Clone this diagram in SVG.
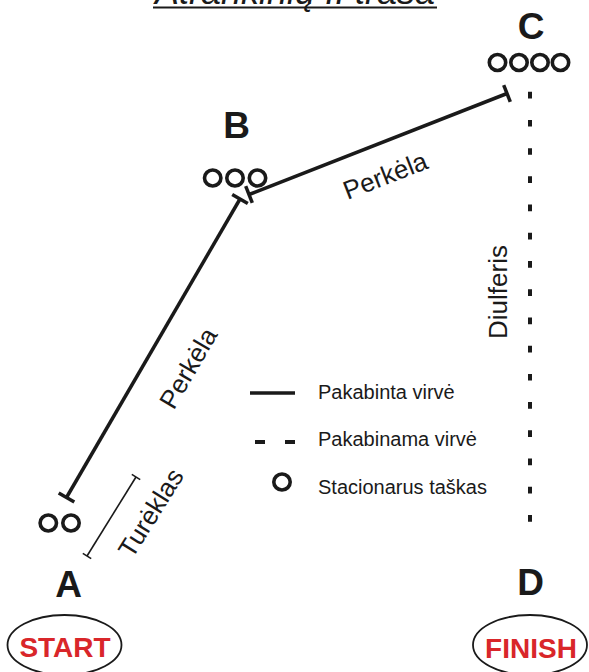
<svg xmlns="http://www.w3.org/2000/svg" width="589" height="672" viewBox="0 0 589 672">
<style>
text{font-family:"Liberation Sans",Arial,sans-serif;fill:#1a1a1a}
.pt{font-weight:bold;font-size:37px;text-anchor:middle}
.lbl{font-size:26px;text-anchor:middle}
.leg{font-size:20px}
.se{font-weight:bold;font-size:28px;fill:#d9262a;text-anchor:middle}
.rope{stroke:#1a1a1a;stroke-width:3.5;fill:none}
.thin{stroke:#1a1a1a;stroke-width:1.6;fill:none}
.ring{fill:none;stroke:#1a1a1a;stroke-width:3.6}
.oval{fill:#fff;stroke:#1a1a1a;stroke-width:1.8}
</style>
<rect width="589" height="672" fill="#fff"/>
<g id="title">
<text x="295" y="4" font-size="36" font-style="italic" text-anchor="middle">Atrankinių II trasa</text>
<line x1="153" y1="7.5" x2="437" y2="7.5" stroke="#1a1a1a" stroke-width="2"/>
</g>
<g id="connectors">
<g id="rope-AB">
<line class="rope" x1="66.5" y1="497.5" x2="240" y2="199"/>
<line class="rope" x1="58.7" y1="493" x2="74.3" y2="502"/>
<line class="rope" x1="232.2" y1="194.5" x2="247.8" y2="203.5"/>
<text class="lbl" transform="translate(196,372.6) rotate(-59.7)">Perkėla</text>
</g>
<g id="rope-BC">
<line class="rope" x1="249" y1="194.5" x2="507" y2="93.5"/>
<line class="rope" x1="245.7" y1="186.1" x2="252.3" y2="202.9"/>
<line class="rope" x1="503.7" y1="85.1" x2="510.3" y2="101.9"/>
<text class="lbl" transform="translate(388.5,184) rotate(-21.4)">Perkėla</text>
</g>
<g id="rope-A">
<line class="thin" x1="87" y1="556" x2="136" y2="477"/>
<line class="thin" x1="82.8" y1="553.4" x2="91.2" y2="558.6"/>
<line class="thin" x1="131.8" y1="474.4" x2="140.2" y2="479.6"/>
<text class="lbl" font-size="25" transform="translate(158.4,517.6) rotate(-58)">Turėklas</text>
</g>
<g id="rope-CD">
<line x1="530" y1="91.7" x2="530" y2="522" stroke="#1a1a1a" stroke-width="4" stroke-dasharray="6.7 21.52"/>
<text class="lbl" font-size="27" transform="translate(507,292) rotate(-90)">Diulferis</text>
</g>
</g>
<g id="node-A">
<text class="pt" x="68.5" y="597">A</text>
<ellipse class="ring" cx="48.3" cy="523" rx="8.2" ry="8"/>
<ellipse class="ring" cx="71" cy="523" rx="8.2" ry="8"/>
</g>
<g id="node-B">
<text class="pt" x="236.5" y="138">B</text>
<ellipse class="ring" cx="212.7" cy="178" rx="8.2" ry="8"/>
<ellipse class="ring" cx="235" cy="178" rx="8.2" ry="8"/>
<ellipse class="ring" cx="257.5" cy="178" rx="8.2" ry="8"/>
</g>
<g id="node-C">
<text class="pt" x="531" y="38.5">C</text>
<ellipse class="ring" cx="497.5" cy="62.5" rx="8.2" ry="8"/>
<ellipse class="ring" cx="519" cy="62.5" rx="8.2" ry="8"/>
<ellipse class="ring" cx="540" cy="62.5" rx="8.2" ry="8"/>
<ellipse class="ring" cx="560.5" cy="62.5" rx="8.2" ry="8"/>
</g>
<g id="node-D">
<text class="pt" x="530.5" y="595">D</text>
</g>
<g id="start">
<ellipse class="oval" cx="64.5" cy="645" rx="57" ry="30"/>
<text class="se" x="65" y="657">START</text>
</g>
<g id="finish">
<ellipse class="oval" cx="530" cy="645" rx="57" ry="30"/>
<text class="se" x="531" y="658">FINISH</text>
</g>
<g id="legend">
<line x1="250" y1="393" x2="295" y2="393" stroke="#1a1a1a" stroke-width="3.5"/>
<text class="leg" x="318" y="399">Pakabinta virvė</text>
<line x1="255" y1="442" x2="265" y2="442" stroke="#1a1a1a" stroke-width="4"/>
<line x1="285" y1="442" x2="295" y2="442" stroke="#1a1a1a" stroke-width="4"/>
<text class="leg" x="318" y="446">Pakabinama virvė</text>
<ellipse class="ring" cx="282" cy="482" rx="8.2" ry="8"/>
<text class="leg" x="318" y="494">Stacionarus taškas</text>
</g>
</svg>
